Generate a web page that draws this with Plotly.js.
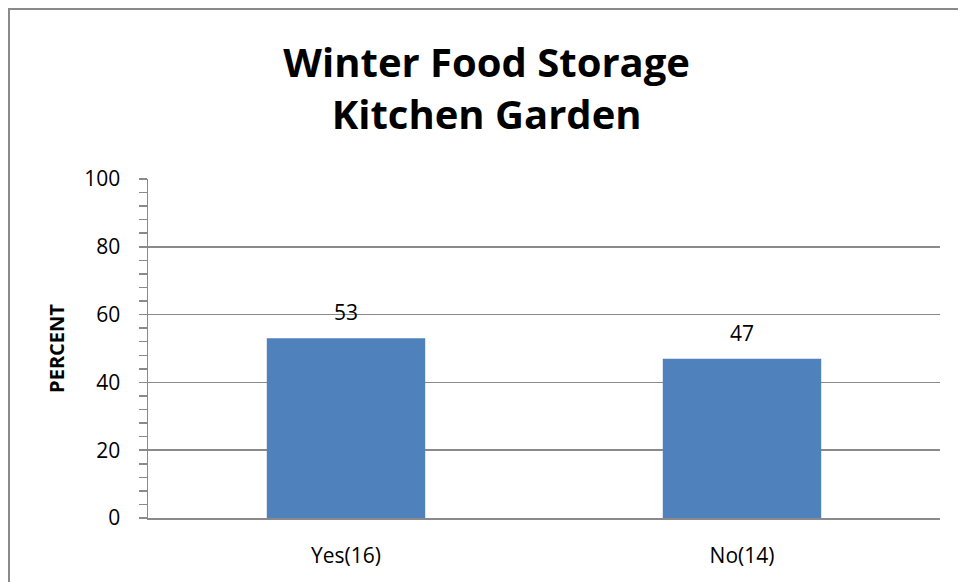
<!DOCTYPE html>
<html>
<head>
<meta charset="utf-8">
<script src="https://cdn.plot.ly/plotly-3.0.1.min.js"></script>
<style>
  html, body { margin: 0; padding: 0; background: #fff; overflow: hidden; }
  #chart { width: 958px; height: 582px; }
  #frame { position: absolute; left: 8px; top: 8px; width: 1200px; height: 1200px;
           border-left: 2px solid #8a8a8a; border-top: 2px solid #8a8a8a; pointer-events: none; }
</style>
</head>
<body>
<div id="chart"></div>
<div id="frame"></div>
<script>
const categories = ["Yes(16)", "No(14)"];
const percentValues = [53, 47];
const dataLabels = ["53", "47"];
const chartTitle = "Winter Food Storage<br>Kitchen Garden";
const yAxisTitle = "PERCENT";

const FONT = "Open Sans, Calibri, sans-serif";
const GRID = "#8a8a8a";

const trace = {
  type: "bar",
  x: categories,
  y: percentValues,
  marker: { color: "#4f81bd", line: { width: 0 } },
  hoverinfo: "x+y",
  showlegend: false
};

const annotations = categories.map((c, i) => ({
  x: c, y: percentValues[i], xref: "x", yref: "y",
  text: dataLabels[i], showarrow: false,
  yanchor: "middle", yshift: 26,
  font: { family: FONT, size: 21, color: "#000" }
}));

const layout = {
  width: 958, height: 582,
  margin: { l: 148, r: 18, t: 179, b: 64, pad: 0 },
  paper_bgcolor: "#fff", plot_bgcolor: "#fff",
  title: {
    text: chartTitle,
    font: { family: FONT, size: 40, color: "#000", weight: "bold" },
    x: 0.508, xanchor: "center", xref: "container",
    y: 0.868, yanchor: "top", yref: "container"
  },
  bargap: 0.6,
  xaxis: {
    type: "category",
    showline: true, linecolor: GRID, linewidth: 1.5,
    showgrid: false, zeroline: false,
    ticks: "", ticklabelstandoff: 18,
    tickfont: { family: FONT, size: 21, color: "#000" }
  },
  yaxis: {
    range: [0, 100], dtick: 20, tick0: 0,
    showline: true, linecolor: GRID, linewidth: 1.5,
    showgrid: true, gridcolor: GRID, gridwidth: 1.5,
    zeroline: false,
    ticks: "outside", ticklen: 8, tickcolor: GRID, tickwidth: 1.5,
    minor: { dtick: 4, ticks: "outside", ticklen: 8, tickcolor: GRID, tickwidth: 1.5, showgrid: false },
    ticklabelstandoff: 14,
    tickfont: { family: FONT, size: 21, color: "#000" },
    title: { text: yAxisTitle, standoff: 14, font: { family: FONT, size: 20, color: "#000", weight: "bold" } }
  },
  annotations: annotations
};

Plotly.newPlot("chart", [trace], layout, { displayModeBar: false, staticPlot: true });
</script>
</body>
</html>
